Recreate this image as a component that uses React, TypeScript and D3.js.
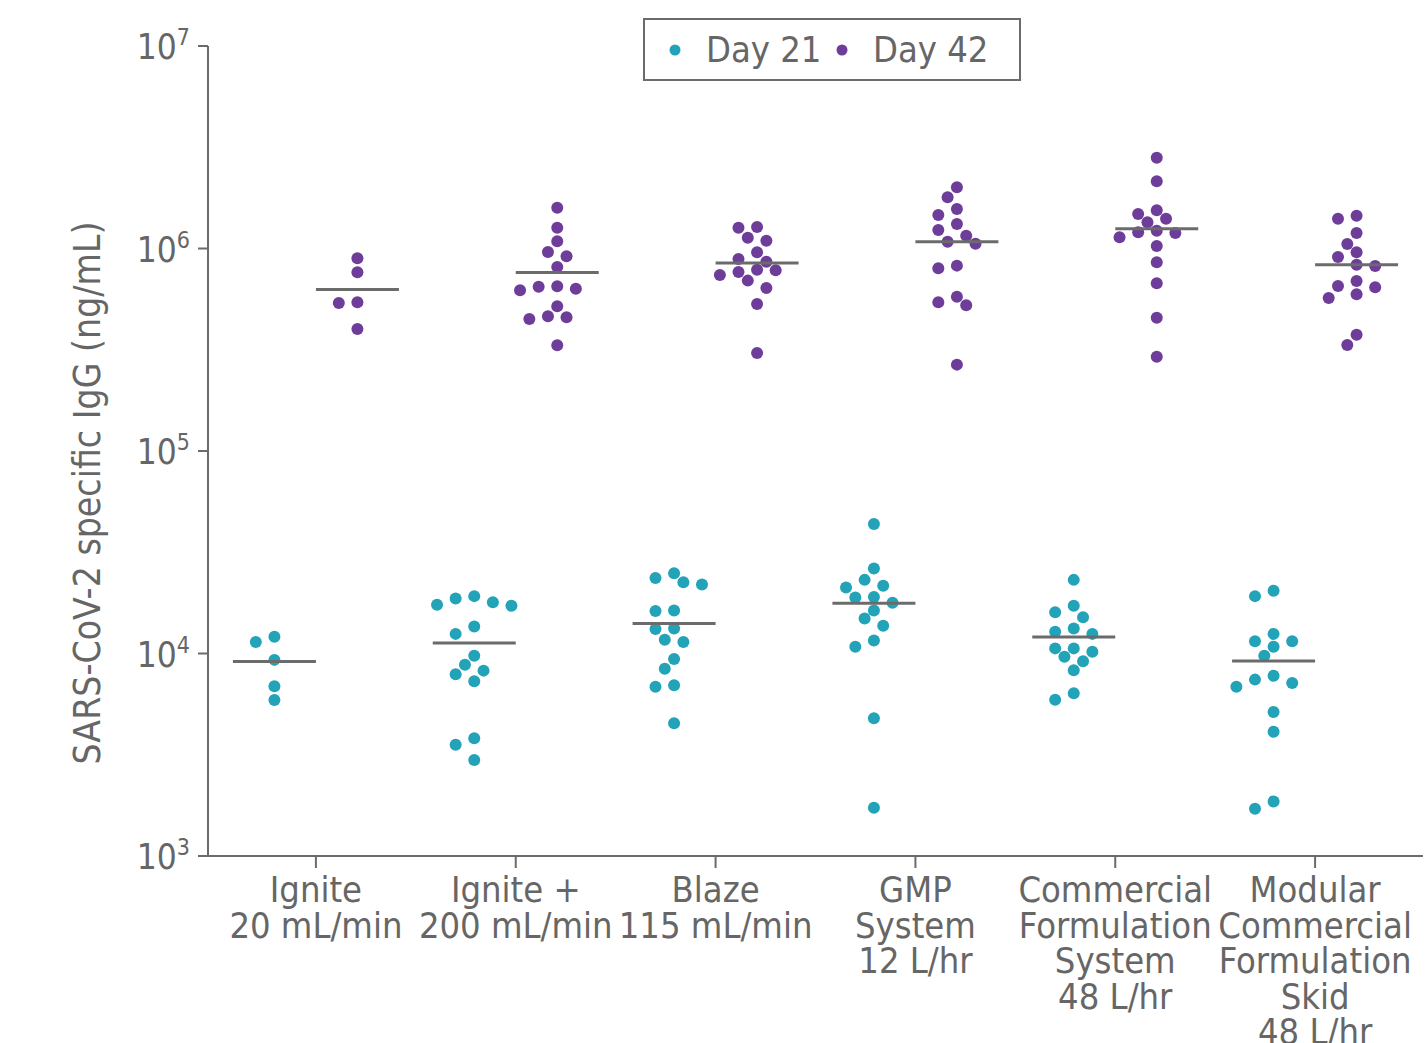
import React from 'react'
import * as d3 from 'd3'

const width = 1427
const height = 1043
const textColor = '#666666'
const axisColor = '#6b6b6b'
const fontFamily = '"DejaVu Sans Condensed", "DejaVu Sans", sans-serif'

const categories = [
	['Ignite', '20 mL/min'],
	['Ignite +', '200 mL/min'],
	['Blaze', '115 mL/min'],
	['GMP', 'System', '12 L/hr'],
	['Commercial', 'Formulation', 'System', '48 L/hr'],
	['Modular', 'Commercial', 'Formulation', 'Skid', '48 L/hr'],
]

const seriesNames = ['Day 21', 'Day 42']
const seriesColors = ['#22a3b8', '#6e3d9a']

const yTicks = [1e3, 1e4, 1e5, 1e6, 1e7]

// ng/mL, one array per category
const day21 = [
	[12100, 11400, 9300, 6900, 5900],
	[19200, 18700, 17900, 17400, 17200, 13600, 12500, 9750, 8800, 8230, 7900, 7290, 3810, 3540, 2980],
	[24900, 23600, 22500, 21900, 16300, 16200, 13300, 13200, 11700, 11400, 9390, 8410, 6970, 6860, 4520],
	[43600, 26300, 23100, 21600, 21200, 19000, 18900, 17800, 16300, 14900, 13700, 11600, 10800, 4790, 1730],
	[23100, 17200, 16000, 15100, 13300, 12800, 12500, 10600, 10600, 10200, 9640, 9150, 8260, 6360, 5910],
	[20400, 19200, 12500, 11500, 11500, 10800, 9750, 7770, 7430, 7150, 6860, 5140, 4110, 1860, 1710],
]

const day42 = [
	[894000, 763000, 542000, 538000, 400000],
	[1590000, 1267000, 1085000, 961000, 915000, 810000, 651000, 648000, 633000, 622000, 518000, 463000, 457000, 449000, 333000],
	[1277000, 1267000, 1131000, 1093000, 958000, 888000, 861000, 786000, 780000, 766000, 740000, 694000, 638000, 532000, 305000],
	[2005000, 1789000, 1567000, 1464000, 1321000, 1234000, 1157000, 1080000, 1056000, 823000, 799000, 578000, 542000, 524000, 267000],
	[2808000, 2147000, 1544000, 1481000, 1404000, 1347000, 1224000, 1202000, 1193000, 1136000, 1029000, 855000, 673000, 455000, 292000],
	[1452000, 1404000, 1193000, 1052000, 958000, 908000, 832000, 820000, 691000, 653000, 643000, 594000, 570000, 375000, 334000],
]

const margin = { left: 208, right: 4, top: 46, bottom: 187 }
const dotR = 6

// simple column-snapped beeswarm: each point goes to the nearest free half-column
function swarm(values, cy, step, minDist) {
	const placed = []
	const order = values.map((v, i) => i).sort((a, b) => values[b] - values[a])
	const offsets = new Array(values.length)
	order.forEach((i) => {
		const y = cy(values[i])
		for (let k = 0; k < 20; k++) {
			const cands = k === 0 ? [0] : [-k, k]
			let found = null
			for (const c of cands) {
				const x = c * step
				const hit = placed.some((p) => (p.x - x) ** 2 + (p.y - y) ** 2 < minDist * minDist)
				if (!hit) { found = x; break }
			}
			if (found !== null) {
				placed.push({ x: found, y })
				offsets[i] = found
				return
			}
		}
		offsets[i] = 0
	})
	return offsets
}

export default function App() {
	const x = d3.scalePoint()
		.domain(categories.map((c) => c.join(' ')))
		.range([margin.left, width - margin.right])
		.padding(0.54)
	const sub = d3.scalePoint().domain(seriesNames).range([-41.5, 41.5])
	const y = d3.scaleLog().domain([1e3, 1e7]).range([height - margin.bottom, margin.top])
	const y0 = height - margin.bottom

	const groups = []
	categories.forEach((c, ci) => {
		;[day21[ci], day42[ci]].forEach((vals, si) => {
			const cx = x(c.join(' ')) + sub(seriesNames[si])
			const offs = swarm(vals, y, 9.3, 12.2)
			groups.push({ cx, vals, offs, color: seriesColors[si], mean: d3.mean(vals), key: ci + '-' + si })
		})
	})

	return (
		<div style={{ position: 'absolute', left: 0, top: 0 }}>
			<svg width={width} height={height} style={{ display: 'block', background: 'white' }} fontFamily={fontFamily}>
				{/* y axis */}
				<line x1={margin.left} x2={margin.left} y1={margin.top} y2={y0} stroke={axisColor} strokeWidth={2} />
				{yTicks.map((t) => (
					<g key={t} transform={`translate(0,${y(t)})`}>
						<line x1={margin.left - 10} x2={margin.left} stroke={axisColor} strokeWidth={2} />
						<text x={190} y={13} textAnchor="end" fill={textColor} fontSize={35}>
							10<tspan fontSize={23} dy={-14}>{Math.round(Math.log10(t))}</tspan>
						</text>
					</g>
				))}
				<text transform="translate(87,493) rotate(-90)" textAnchor="middle"
					dominantBaseline="central" fill={textColor} fontSize={37}>
					SARS-CoV-2 specific IgG (ng/mL)
				</text>

				{/* x axis */}
				<line x1={margin.left} x2={width - margin.right} y1={y0} y2={y0} stroke={axisColor} strokeWidth={2} />
				{categories.map((c) => (
					<g key={c.join(' ')} transform={`translate(${x(c.join(' '))},${y0})`}>
						<line y1={0} y2={12} stroke={axisColor} strokeWidth={2} />
						<text textAnchor="middle" fill={textColor} fontSize={36}>
							{c.map((line, li) => (
								<tspan key={li} x={0} y={46 + li * 35.6}>{line}</tspan>
							))}
						</text>
					</g>
				))}

				{/* points + mean */}
				{groups.map((g) => (
					<g key={g.key}>
						{g.vals.map((v, i) => (
							<circle key={i} cx={g.cx + g.offs[i]} cy={y(v)} r={dotR} fill={g.color} />
						))}
						<line x1={g.cx - 41.5} x2={g.cx + 41.5} y1={y(g.mean)} y2={y(g.mean)} stroke={axisColor} strokeWidth={3} />
					</g>
				))}

				{/* legend */}
				<rect x={644} y={19} width={376} height={61} fill="white" stroke={axisColor} strokeWidth={2} />
				{seriesNames.map((s, i) => (
					<g key={s} transform={`translate(${675 + i * 167},50)`}>
						<circle r={5.5} fill={seriesColors[i]} />
						<text x={31} y={12} fill={textColor} fontSize={36}>{s}</text>
					</g>
				))}
			</svg>
		</div>
	)
}
